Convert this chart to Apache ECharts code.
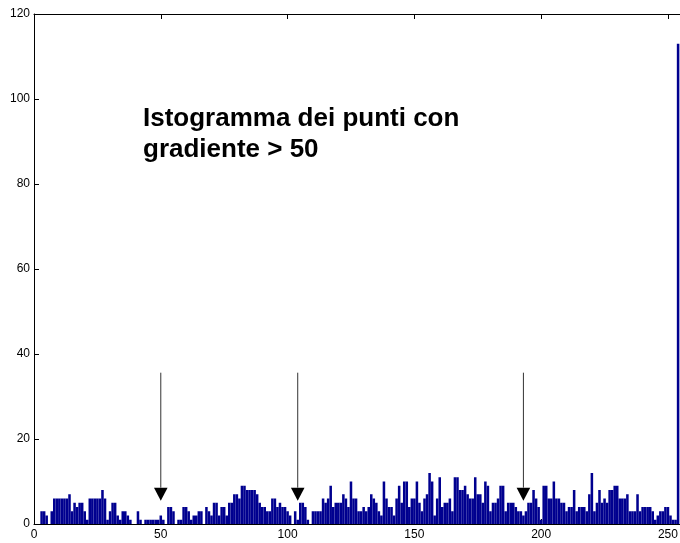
<!DOCTYPE html>
<html>
<head>
<meta charset="utf-8">
<script src="https://cdn.jsdelivr.net/npm/echarts@6/dist/echarts.min.js"></script>
<style>
  html, body { margin: 0; padding: 0; background: #fff; overflow: hidden; }
  #chart { width: 680px; height: 543px; }
</style>
</head>
<body>
<div id="chart"></div>
<script>
// conteggi per livello di grigio 0..255
const counts = [
  0, 0, 0, 3, 3, 2, 0, 3, 6, 6,
  6, 6, 6, 6, 7, 3, 5, 4, 5, 5,
  3, 1, 6, 6, 6, 6, 6, 8, 6, 1,
  3, 5, 5, 2, 1, 3, 3, 2, 1, 0,
  0, 3, 1, 0, 1, 1, 1, 1, 1, 1,
  2, 1, 0, 4, 4, 3, 0, 1, 1, 4,
  4, 3, 1, 2, 2, 3, 3, 0, 4, 3,
  2, 5, 5, 2, 4, 4, 2, 5, 5, 7,
  7, 6, 9, 9, 8, 8, 8, 8, 7, 5,
  4, 4, 3, 3, 6, 6, 4, 5, 4, 4,
  3, 2, 0, 3, 1, 5, 5, 4, 1, 0,
  3, 3, 3, 3, 6, 5, 6, 9, 4, 5,
  5, 5, 7, 6, 4, 10, 6, 6, 3, 3,
  4, 3, 4, 7, 6, 5, 3, 2, 10, 6,
  4, 4, 2, 6, 9, 5, 10, 10, 4, 6,
  6, 10, 5, 3, 6, 7, 12, 10, 2, 6,
  11, 4, 5, 5, 6, 3, 11, 11, 8, 8,
  9, 7, 6, 6, 11, 7, 7, 5, 10, 9,
  3, 5, 5, 6, 9, 9, 3, 5, 5, 5,
  4, 3, 3, 2, 3, 5, 5, 8, 6, 4,
  1, 9, 9, 6, 6, 10, 6, 6, 5, 5,
  3, 4, 4, 8, 3, 4, 4, 4, 3, 7,
  12, 3, 5, 8, 5, 6, 5, 8, 8, 9,
  9, 6, 6, 6, 7, 3, 3, 3, 7, 3,
  4, 4, 4, 4, 3, 1, 2, 3, 3, 4,
  4, 2, 1, 1, 113, 0
];

// frecce: posizione x, inizio e punta (in unità dell'asse y)
const arrowX = [50, 104, 193];
const arrowTop = 35.6;
const arrowTip = 5.5;

const xTicks = [0, 50, 100, 150, 200, 250];
const yTicks = [0, 20, 40, 60, 80, 100, 120];

const titleLines = ['Istogramma dei punti con', 'gradiente > 50'];

const font = 'Liberation Sans, Arial, sans-serif';
const barColor = '#00008f';

const chart = echarts.init(document.getElementById('chart'), null, { renderer: 'canvas' });

const axisCommon = {
  type: 'value',
  min: 0,
  max: 254.75,
  interval: xTicks[1] - xTicks[0],
  splitLine: { show: false },
  axisLine: { show: true, onZero: false, lineStyle: { color: '#000', width: 1 } },
  axisTick: { show: true, inside: true, length: 5, lineStyle: { color: '#000' } }
};

const option = {
  backgroundColor: '#fff',
  animation: false,
  grid: { left: 34, right: 0, top: 14, bottom: 19, containLabel: false, outerBoundsMode: 'none' },
  xAxis: [
    Object.assign({}, axisCommon, {
      position: 'bottom',
      axisLabel: {
        color: '#000', fontSize: 12, fontFamily: font, margin: 5,
        formatter: v => xTicks.indexOf(v) >= 0 ? String(v) : ''
      }
    }),
    Object.assign({}, axisCommon, {
      position: 'top',
      axisLabel: { show: false }
    })
  ],
  yAxis: {
    type: 'value',
    min: yTicks[0],
    max: yTicks[yTicks.length - 1],
    interval: yTicks[1] - yTicks[0],
    splitLine: { show: false },
    axisLine: { show: true, lineStyle: { color: '#000', width: 1 } },
    axisTick: { show: true, inside: true, length: 5, lineStyle: { color: '#000' } },
    axisLabel: { color: '#000', fontSize: 12, fontFamily: font, margin: 4 }
  },
  series: [
    {
      type: 'custom',
      name: 'istogramma',
      clip: true,
      data: counts.map((c, i) => [i, c]),
      renderItem: function (params, api) {
        const x = api.value(0);
        const y = api.value(1);
        if (!y) return null;
        const p0 = api.coord([x - 0.5, y]);
        const p1 = api.coord([x + 0.5, 0]);
        return {
          type: 'rect',
          shape: { x: p0[0], y: p0[1], width: p1[0] - p0[0], height: p1[1] - p0[1] },
          style: { fill: barColor }
        };
      }
    },
    {
      type: 'custom',
      name: 'frecce',
      data: arrowX.map(x => [x, arrowTop, arrowTip]),
      renderItem: function (params, api) {
        const x = api.value(0);
        const top = api.coord([x, api.value(1)]);
        const tip = api.coord([x, api.value(2)]);
        const h = 13, w = 6.8;
        return {
          type: 'group',
          children: [
            {
              type: 'line',
              shape: { x1: top[0], y1: top[1], x2: tip[0], y2: tip[1] - h },
              style: { stroke: '#333', lineWidth: 1 }
            },
            {
              type: 'polygon',
              shape: { points: [[tip[0] - w, tip[1] - h], [tip[0] + w, tip[1] - h], [tip[0], tip[1]]] },
              style: { fill: '#000' }
            }
          ]
        };
      }
    }
  ],
  graphic: [
    {
      type: 'text',
      left: 143,
      top: 103,
      style: {
        text: titleLines.join('\n'),
        font: 'bold 26px ' + font,
        lineHeight: 31,
        fill: '#000'
      }
    }
  ]
};

chart.setOption(option);
</script>
</body>
</html>
